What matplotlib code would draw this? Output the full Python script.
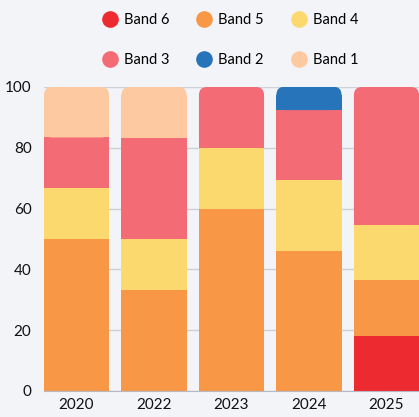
import numpy as np
import matplotlib
matplotlib.use("Agg")
import matplotlib.pyplot as plt
from matplotlib.patches import FancyBboxPatch, Rectangle
from matplotlib.lines import Line2D

plt.rcParams['font.family'] = ['Lato', 'DejaVu Sans']

years = ["2020", "2022", "2023", "2024", "2025"]
bands = ["Band 6", "Band 5", "Band 4", "Band 3", "Band 2", "Band 1"]
colors = ["#ee2a31", "#f89847", "#fcd96e", "#f36b74", "#2874bb", "#fcc9a0"]

# percentage share of each band per year, bottom to top
band6 = [0, 0, 0, 0, 18.2]
band5 = [50.0, 33.3, 60.0, 46.2, 18.2]
band4 = [16.7, 16.7, 20.0, 23.1, 18.2]
band3 = [16.7, 33.3, 20.0, 23.1, 45.4]
band2 = [0, 0, 0, 7.7, 0]
band1 = [16.6, 16.7, 0, 0, 0]
series = [band6, band5, band4, band3, band2, band1]

bg = "#f3f4f8"
fig = plt.figure(figsize=(4.19, 4.17), dpi=100, facecolor=bg)
ax = fig.add_axes([44 / 419, 26 / 417, 375 / 419, 304 / 417], facecolor=bg)

width = 0.84
x = np.arange(len(years))
ax.set_xlim(-width / 2, len(years) - 1 + width / 2)
ax.set_ylim(0, 100)

# corner radius in pixels -> data units
radius_px = 8
px_per_x = 375 / (ax.get_xlim()[1] - ax.get_xlim()[0])
px_per_y = 304 / 100
rx = radius_px / px_per_x
ry = radius_px / px_per_y

bottoms = np.zeros(len(years))
tops = np.sum(series, axis=0)
for vals, col in zip(series, colors):
    vals = np.array(vals, dtype=float)
    for i in range(len(years)):
        if vals[i] <= 0:
            continue
        b = bottoms[i]
        h = vals[i]
        left = x[i] - width / 2
        if abs(b + h - tops[i]) < 1e-6:
            # top segment gets rounded upper corners
            ax.add_patch(FancyBboxPatch((left, b), width, h,
                                        boxstyle=f"round,pad=0,rounding_size={rx}",
                                        mutation_aspect=ry / rx,
                                        fc=col, ec="none", zorder=3))
            ax.add_patch(Rectangle((left, b), width, h - ry, fc=col, ec="none", zorder=3))
        else:
            ax.add_patch(Rectangle((left, b), width, h, fc=col, ec="none", zorder=3))
    bottoms += vals

ax.set_xticks(x)
ax.set_xticklabels(years)
ax.set_yticks(np.arange(0, 101, 20))
ax.tick_params(axis="both", length=0, labelsize=11, colors="#111111")
ax.tick_params(axis="y", pad=9)
ax.tick_params(axis="x", pad=5)
ax.grid(axis="y", color="#cfd0d6", linewidth=1, zorder=0)
for s in ["top", "right", "left"]:
    ax.spines[s].set_visible(False)
ax.spines["bottom"].set_color("#b8b9c0")
ax.spines["bottom"].set_zorder(4)

handles = [Line2D([], [], marker="o", linestyle="none", markersize=12,
                  markerfacecolor=c, markeredgecolor="none") for c in colors]
order = [0, 3, 1, 4, 2, 5]
fig.legend([handles[i] for i in order], [bands[i] for i in order],
           ncol=3, loc="upper center", bbox_to_anchor=(0.55, 1.0),
           frameon=False, fontsize=10.5, handletextpad=0.45, columnspacing=1.9,
           labelspacing=1.75, handlelength=1.0)

fig.savefig("out.png", dpi=100, facecolor=bg)
